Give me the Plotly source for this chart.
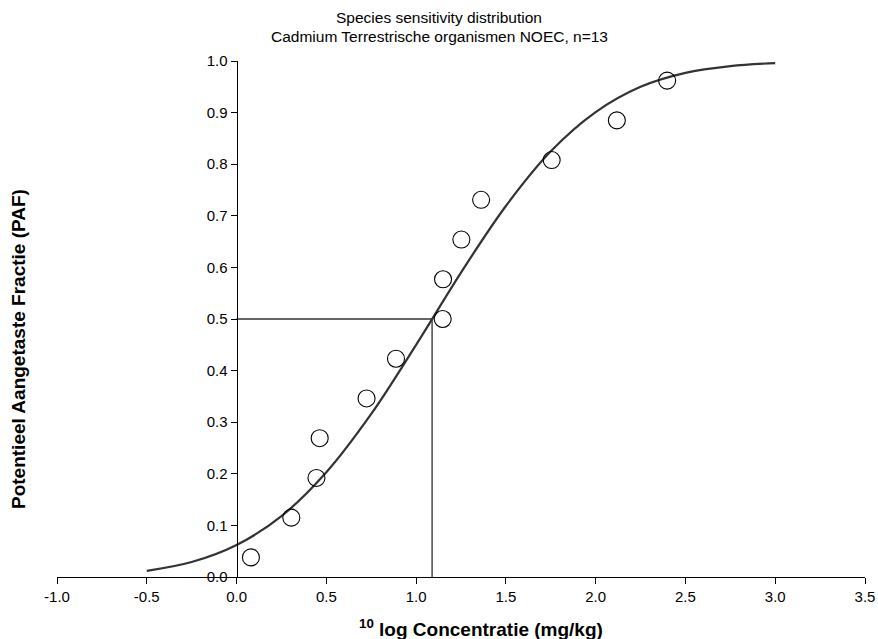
import plotly.graph_objects as go

# Observed data (log10 concentration, PAF)
obs_x = [0.08, 0.305, 0.445, 0.463, 0.724, 0.888, 1.148, 1.150, 1.252, 1.362, 1.755, 2.118, 2.398]
obs_y = [0.038, 0.115, 0.192, 0.269, 0.346, 0.423, 0.500, 0.577, 0.654, 0.731, 0.808, 0.885, 0.962]

# Fitted curve
fit_x = [-0.5, -0.25, 0.0, 0.25, 0.5, 0.75, 1.0, 1.25, 1.5, 1.75, 2.0, 2.25, 2.5, 2.75, 3.0]
fit_y = [0.012, 0.029, 0.062, 0.118, 0.203, 0.316, 0.450, 0.590, 0.719, 0.825, 0.901, 0.950, 0.977, 0.990, 0.996]

# HC50 guide lines
hc50_x = 1.089
hc50_y = 0.5

x_range = [-1.0, 3.5]
x_ticks = [-1.0, -0.5, 0.0, 0.5, 1.0, 1.5, 2.0, 2.5, 3.0, 3.5]
y_ticks = [0.0, 0.1, 0.2, 0.3, 0.4, 0.5, 0.6, 0.7, 0.8, 0.9, 1.0]

title_lines = ["Species sensitivity distribution", "Cadmium Terrestrische organismen NOEC, n=13"]
x_title = "<b><sup>10</sup> log Concentratie (mg/kg)</b>"
y_title = "<b>Potentieel Aangetaste Fractie (PAF)</b>"

font = "Liberation Sans, Arial, sans-serif"
line_col = "#333333"

fig = go.Figure()
fig.add_trace(go.Scatter(x=[0.0, hc50_x, hc50_x], y=[hc50_y, hc50_y, 0.0], mode="lines",
                         line=dict(color=line_col, width=1.3), hoverinfo="skip"))
fig.add_trace(go.Scatter(x=fit_x, y=fit_y, mode="lines", line=dict(color=line_col, width=2.2, shape="spline")))
fig.add_trace(go.Scatter(x=obs_x, y=obs_y, mode="markers",
                         marker=dict(symbol="circle-open", size=17, color="black", line=dict(width=1.1))))

ypos = (0 - x_range[0]) / (x_range[1] - x_range[0])
PW = 808  # intended plot width in px
PH = 516  # intended plot height in px

fig.update_layout(
    width=878, height=639,
    margin=dict(l=57, r=13, t=61, b=62),
    paper_bgcolor="white", plot_bgcolor="white",
    showlegend=False,
    font=dict(family=font, size=15, color="black"),
    xaxis=dict(range=x_range, tickvals=x_ticks, ticktext=[f"{v:.1f}" for v in x_ticks],
               showgrid=False, zeroline=False, showline=True, linecolor="black", linewidth=1,
               ticks="outside", ticklen=6, tickcolor="black", anchor="y", automargin=False,
               ticklabeloverflow="allow"),
    yaxis=dict(range=[0, 1], tickvals=y_ticks, ticktext=[f"{v:.1f}" for v in y_ticks],
               showgrid=False, zeroline=False, showline=True, linecolor="black", linewidth=1,
               ticks="outside", ticklen=6, tickcolor="black", anchor="free", position=ypos,
               automargin=False),
    annotations=[
        dict(text=title_lines[0], xref="paper", yref="paper", x=(439 - 57) / PW, y=1 + (61 - 17) / PH,
             xanchor="center", yanchor="middle", showarrow=False, font=dict(family=font, size=15.5)),
        dict(text=title_lines[1], xref="paper", yref="paper", x=(439 - 57) / PW, y=1 + (61 - 37) / PH,
             xanchor="center", yanchor="middle", showarrow=False, font=dict(family=font, size=15.5)),
        dict(text=x_title, xref="paper", yref="paper",
             x=(357 - 57) / PW, y=-(628 - 577) / PH, xanchor="left", yanchor="middle", showarrow=False,
             font=dict(family=font, size=19)),
        dict(text=y_title, xref="paper", yref="paper",
             x=-(57 - 18) / PW, y=(577 - 349) / PH, xanchor="center", yanchor="middle", textangle=-90,
             showarrow=False, font=dict(family=font, size=19)),
    ],
)

post = ("document.body.style.margin='0';document.body.style.overflow='hidden';"
        "var gd=document.getElementById('{plot_id}');Plotly.relayout(gd,{width:878,height:639});")
fig.write_html("out.html", post_script=post,
               config={"displayModeBar": False, "responsive": False})
